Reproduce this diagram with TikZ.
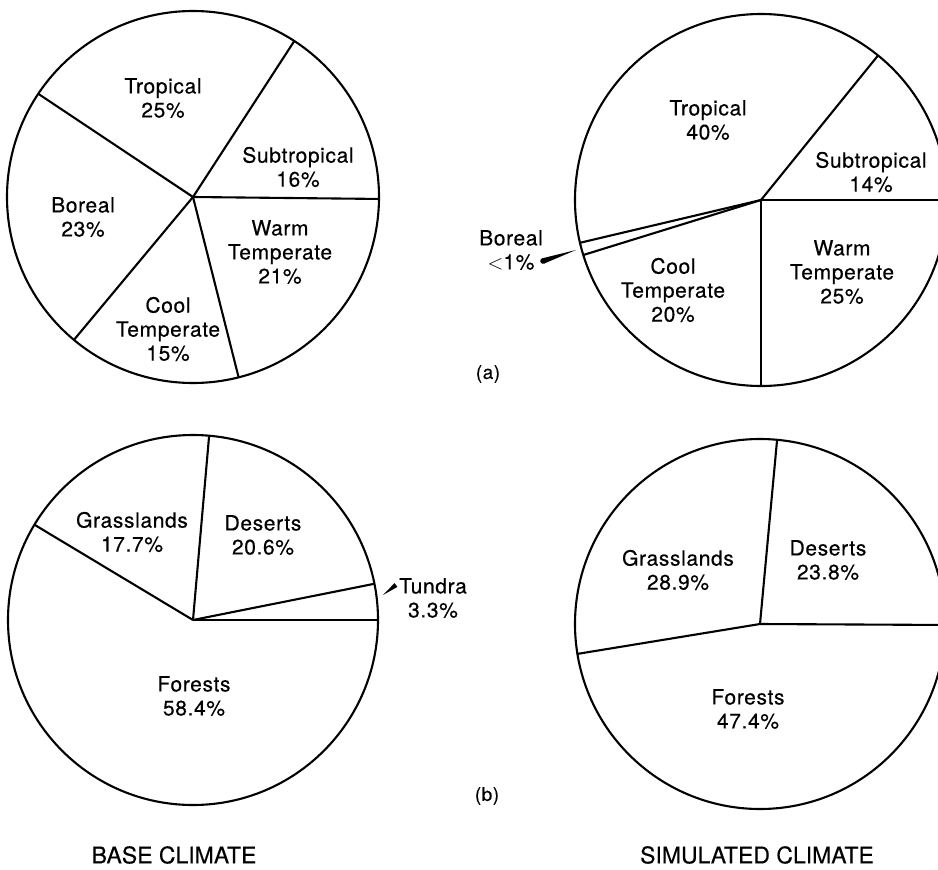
\documentclass[tikz,border=0pt]{standalone}
\usepackage{fontspec}
\setmainfont{TeX Gyre Heros}[LetterSpace=3.0,FakeBold=0.4]
\newfontfamily\titlefont{TeX Gyre Heros}[FakeBold=0.3]
\usetikzlibrary{calc}
\begin{document}
\begin{tikzpicture}[x=1pt,y=-1pt,
  pie/.style={line width=2.1pt},
  lbl/.style={inner sep=0pt,align=center,font=\fontsize{21}{24}\selectfont},
  tag/.style={inner sep=0pt,font=\fontsize{19}{22}\selectfont},
  ttl/.style={inner sep=0pt,font=\titlefont\fontsize{23}{26}\selectfont},
  lead/.style={fill=black}]
\clip (0,0) rectangle (938,870);
\fill[white] (0,0) rectangle (938,870);
% ---------- (a) base ----------
\coordinate (tlc) at (193,197);
\draw[pie] (tlc) circle[radius=186];
\foreach \a in {-57,-146.3,-230.2,-284.2,0.6}
  \draw[pie] (tlc) -- ([shift={(tlc)}]\a:186);
\node[lbl] (tlTrop) at (163,98) {Tropical\\25\%};
\node[lbl] (tlSub) at (298,167) {Subtropical\\16\%};
\node[lbl] (tlBor) at (83,217) {Boreal\\23\%};
\node[lbl] (tlWarm) at (280,252) {Warm\\Temperate\\21\%};
\node[lbl] (tlCool) at (168,329) {Cool\\Temperate\\15\%};
% ---------- (a) simulated ----------
\coordinate (trc) at (761,200);
\draw[pie] (trc) circle[radius=186];
\foreach \a in {-51,0,-270,-197.2,-193.3}
  \draw[pie] (trc) -- ([shift={(trc)}]\a:186);
\node[lbl] (trTrop) at (708,120) {Tropical\\40\%};
\node[lbl] (trSub) at (871,172) {Subtropical\\14\%};
\node[lbl] (trWarm) at (842,272) {Warm\\Temperate\\25\%};
\node[lbl] (trCool) at (673,290) {Cool\\Temperate\\20\%};
\node[lbl] (trBor) at (511,250) {Boreal\\$<$1\%};
\coordinate (borA) at (543,261);
\coordinate (borB) at (576,250);
\fill[lead] (borA) -- ($(borA)!2.8pt!90:(borB)$) -- (borB) -- ($(borA)!2.8pt!-90:(borB)$) -- cycle;
\fill[lead] (borA) circle[radius=2.8];
\node[tag] (taga) at (488,374) {(a)};
% ---------- (b) base ----------
\coordinate (blc) at (193,620);
\draw[pie] (blc) circle[radius=185];
\foreach \a in {0,-11.3,-85,-149}
  \draw[pie] (blc) -- ([shift={(blc)}]\a:185);
\node[lbl] (blGrass) at (132,532) {Grasslands\\17.7\%};
\node[lbl] (blDes) at (263,535) {Deserts\\20.6\%};
\node[lbl] (blTun) at (433,598) {Tundra\\3.3\%};
\node[lbl] (blFor) at (194,696) {Forests\\58.4\%};
\coordinate (tunA) at (396,585);
\coordinate (tunB) at (383,595);
\fill[lead] (tunA) -- ($(tunA)!2.4pt!90:(tunB)$) -- (tunB) -- ($(tunA)!2.4pt!-90:(tunB)$) -- cycle;
\node[tag] (tagb) at (487,796) {(b)};
% ---------- (b) simulated ----------
\coordinate (brc) at (760,624);
\draw[pie] (brc) circle[radius=185];
\foreach \a in {0.3,-84.7,-189.3}
  \draw[pie] (brc) -- ([shift={(brc)}]\a:185);
\node[lbl] (brGrass) at (678,570) {Grasslands\\28.9\%};
\node[lbl] (brDes) at (828,560) {Deserts\\23.8\%};
\node[lbl] (brFor) at (748,709) {Forests\\47.4\%};
% ---------- titles ----------
\node[ttl] (base) at (174,855) {BASE CLIMATE};
\node[ttl] (sim) at (757,855) {SIMULATED CLIMATE};
\end{tikzpicture}
\end{document}
